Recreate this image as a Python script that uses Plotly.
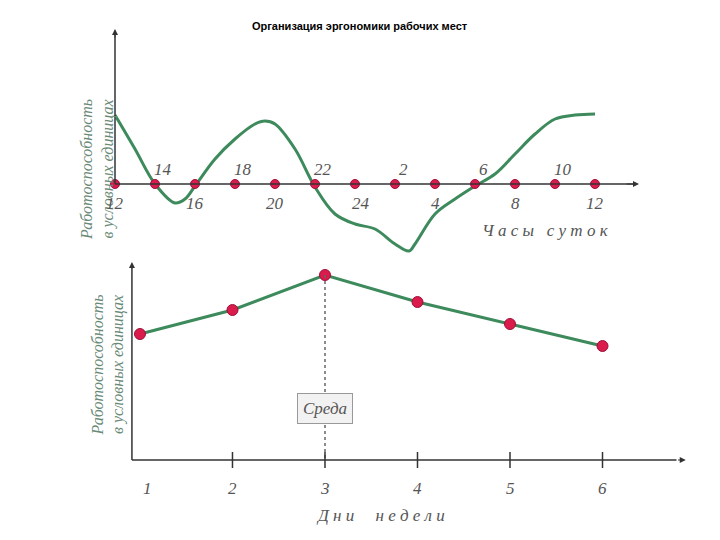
import plotly.graph_objects as go

# top chart: working capacity by hour of day (hour offset from 12:00)
hour_offsets = [0, 1, 2, 3, 3.5, 4, 5, 6, 7, 7.5, 8, 9, 10, 11, 12, 13, 14, 14.7, 15, 16, 17, 18, 19, 20, 21, 22, 23, 24]
capacity_hours = [69, 35, 0, -19, -15, -2, 25, 45, 60, 63, 60, 35, -3, -30, -40, -45, -60, -67, -60, -30, -15, -2, 10, 30, 50, 65, 69, 70]
marker_offsets = list(range(0, 25, 2))
hour_labels = ["12", "14", "16", "18", "20", "22", "24", "2", "4", "6", "8", "10", "12"]

# bottom chart: working capacity by weekday
days = [1, 2, 3, 4, 5, 6]
capacity_days = [126, 150, 185, 158, 136, 114]

GREEN = "#3d8a5c"
RED = "#d91c4c"
GREY = "#555555"
TXT = dict(family="Liberation Serif", size=17, color=GREY)
OFF = 8  # page body margin


def px(x):
    return (x - OFF) / 720


def py(y):
    return 1 - (y - OFF) / 540


fig = go.Figure()
fig.add_trace(go.Scatter(x=hour_offsets, y=capacity_hours, mode="lines",
                         line=dict(color=GREEN, width=3, shape="spline"),
                         xaxis="x", yaxis="y", hoverinfo="skip"))
fig.add_trace(go.Scatter(x=marker_offsets, y=[0] * len(marker_offsets), mode="markers",
                         marker=dict(color=RED, size=9, line=dict(color="#a0103a", width=1)),
                         xaxis="x", yaxis="y"))
fig.add_trace(go.Scatter(x=days, y=capacity_days, mode="lines+markers",
                         line=dict(color=GREEN, width=3),
                         marker=dict(color=RED, size=11, line=dict(color="#a0103a", width=1)),
                         xaxis="x2", yaxis="y2"))

shapes = [
    dict(type="line", xref="x", yref="y", x0=0, x1=26, y0=0, y1=0, line=dict(color="#333", width=1.5)),
    dict(type="line", xref="x", yref="y", x0=0, x1=0, y0=0, y1=150, line=dict(color="#333", width=1.5)),
    dict(type="line", xref="x2", yref="y2", x0=0.913, x1=6.8, y0=0, y1=0, line=dict(color="#333", width=1.5)),
    dict(type="line", xref="x2", yref="y2", x0=0.913, x1=0.913, y0=0, y1=192, line=dict(color="#333", width=1.5)),
    dict(type="line", xref="x2", yref="y2", x0=3, x1=3, y0=capacity_days[2], y1=0,
         line=dict(color="#666", width=1.5, dash="dot")),
]
for d in days[1:]:
    shapes.append(dict(type="line", xref="x2", yref="y2", x0=d, x1=d, y0=-8, y1=8,
                       line=dict(color="#333", width=1.5)))

annotations = [
    dict(text="<b>Организация эргономики рабочих мест</b>", xref="paper", yref="paper",
         x=px(360), y=py(18), showarrow=False, font=dict(family="Liberation Sans Narrow, Liberation Sans", size=11, color="black")),
    dict(xref="x", yref="y", x=26.2, y=0, ax=25.5, ay=0, axref="x", ayref="y", text="",
         showarrow=True, arrowhead=2, arrowsize=1.2, arrowcolor="#333"),
    dict(xref="x", yref="y", x=0, y=155, ax=0, ay=145, axref="x", ayref="y", text="",
         showarrow=True, arrowhead=2, arrowsize=1.2, arrowcolor="#333"),
    dict(xref="x2", yref="y2", x=6.9, y=0, ax=6.8, ay=0, axref="x2", ayref="y2", text="",
         showarrow=True, arrowhead=2, arrowsize=1.2, arrowcolor="#333"),
    dict(xref="x2", yref="y2", x=0.913, y=198, ax=0.913, ay=190, axref="x2", ayref="y2", text="",
         showarrow=True, arrowhead=2, arrowsize=1.2, arrowcolor="#333"),
    dict(text="<i>Ч а с ы   с у т о к</i>", xref="x", yref="y", x=21.5, y=-46, showarrow=False, font=TXT),
    dict(text="<i>Д н и     н е д е л и</i>", xref="x2", yref="y2", x=3.6, y=-55, showarrow=False, font=TXT),
    dict(text="<i>Среда</i>", xref="x2", yref="y2", x=3.0, y=52, showarrow=False, font=TXT,
         bgcolor="#f2f2f2", bordercolor="#999", borderwidth=1, borderpad=5),
    dict(text="<i>Работоспособность<br>в условных единицах</i>", xref="paper", yref="paper",
         x=px(76), y=py(97), textangle=-90, showarrow=False,
         font=dict(family="Liberation Serif", size=16, color="#6a8a78")),
    dict(text="<i>Работоспособность<br>в условных единицах</i>", xref="paper", yref="paper",
         x=px(86), y=py(365), textangle=-90, showarrow=False,
         font=dict(family="Liberation Serif", size=16, color="#6a8a78")),
]
for i, (h, lab) in enumerate(zip(marker_offsets, hour_labels)):
    above = i % 2 == 1
    annotations.append(dict(text=f"<i>{lab}</i>", xref="x", yref="y",
                            x=h + (0.4 if above else 0) + (0.3 if lab == "24" else 0),
                            y=15 if above else -19, showarrow=False, font=TXT))
for d in days:
    annotations.append(dict(text=f"<i>{d}</i>", xref="x2", yref="y2", x=d + (0.08 if d == 1 else 0),
                            y=-28, showarrow=False, font=TXT))

ax_hidden = dict(visible=False, showgrid=False, zeroline=False)
fig.update_layout(
    width=720, height=540, margin=dict(l=0, r=0, t=0, b=0),
    paper_bgcolor="white", plot_bgcolor="white", showlegend=False,
    xaxis=dict(domain=[px(100), px(660)], range=[-0.75, 27.25], **ax_hidden),
    yaxis=dict(domain=[py(260), py(20)], range=[-76, 164], **ax_hidden),
    xaxis2=dict(domain=[px(120), px(700)], range=[0.784, 7.054], **ax_hidden),
    yaxis2=dict(domain=[py(530), py(255)], range=[-70, 205], **ax_hidden),
    shapes=shapes, annotations=annotations,
)
fig.write_html("out.html")
